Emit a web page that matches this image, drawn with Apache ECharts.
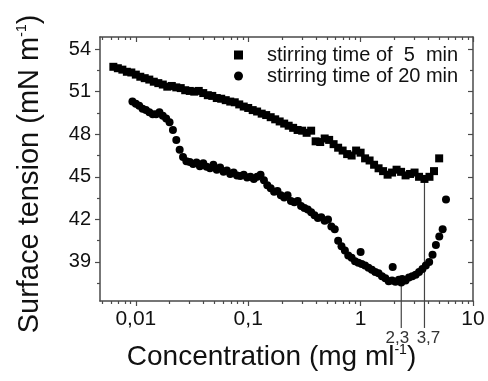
<!DOCTYPE html>
<html>
<head>
<meta charset="utf-8">
<script src="https://cdn.jsdelivr.net/npm/echarts@6/dist/echarts.min.js"></script>
<style>
  html, body { margin: 0; padding: 0; background: #fff; }
  #chart { width: 488px; height: 381px; }
</style>
</head>
<body>
<div id="chart"></div>
<script>
// stirring time of 5 min (squares)
const conc5 = [0.00631, 0.00692, 0.00759, 0.00832, 0.00912, 0.0100, 0.01096, 0.0120, 0.01318, 0.01445,
  0.01585, 0.01738, 0.01905, 0.0209, 0.0229, 0.0251, 0.0275, 0.0302, 0.0331, 0.0363,
  0.0398, 0.0437, 0.0479, 0.0525, 0.0575, 0.0631, 0.0692, 0.0759, 0.0832, 0.0912,
  0.100, 0.1096, 0.120, 0.1318, 0.1445, 0.1585, 0.1738, 0.1905, 0.209, 0.229,
  0.251, 0.275, 0.302, 0.331, 0.363, 0.398, 0.437, 0.479, 0.525, 0.575,
  0.631, 0.692, 0.759, 0.832, 0.912, 1.00, 1.096, 1.202, 1.318, 1.445,
  1.585, 1.738, 1.905, 2.089, 2.291, 2.512, 2.754, 3.020, 3.311,
  3.7, 4.1, 4.5, 5.0]
const tension5 = [52.75, 52.65, 52.55, 52.4, 52.35, 52.2, 52.05, 51.95, 51.85, 51.7,
  51.6, 51.5, 51.35, 51.4, 51.3, 51.25, 51.1, 51.05, 51.0, 51.05,
  50.9, 50.75, 50.7, 50.55, 50.5, 50.4, 50.3, 50.25, 50.1, 49.95,
  49.85, 49.7, 49.6, 49.45, 49.35, 49.2, 49.05, 48.9, 48.75, 48.6,
  48.45, 48.3, 48.25, 48.1, 48.25, 47.5, 47.45, 47.7, 47.6, 47.3,
  47.05, 46.85, 46.6, 46.5, 46.85, 46.7, 46.3, 46.15, 45.85, 45.6,
  45.4, 45.15, 45.3, 45.5, 45.35, 45.1, 45.2, 45.3, 45.0,
  44.85, 45.0, 45.4, 46.3]

// stirring time of 20 min (circles)
const conc20 = [0.00933, 0.0100, 0.01072, 0.01148, 0.0123, 0.01318, 0.01413, 0.01514, 0.01622, 0.01738,
  0.01862, 0.01995, 0.02138, 0.02291, 0.02455, 0.0263, 0.02818, 0.0302, 0.03236, 0.03467,
  0.03715, 0.03981, 0.04266, 0.04571, 0.04898, 0.05248, 0.05623, 0.06026, 0.06457, 0.06918,
  0.07413, 0.07943, 0.08511, 0.0912, 0.09772, 0.1047, 0.1122, 0.1202, 0.1288, 0.138,
  0.1479, 0.1585, 0.1698, 0.182, 0.195, 0.2089, 0.2239, 0.2399, 0.257, 0.2754,
  0.2951, 0.3162, 0.3388, 0.3631, 0.389, 0.4169, 0.4467, 0.4786, 0.5129, 0.5495,
  0.5888, 0.631, 0.6761, 0.7244, 0.7762, 0.8318, 0.8913, 0.955, 1.023, 1.096,
  1.175, 1.259, 1.349, 1.445, 1.549, 1.66, 1.778, 1.905, 2.042, 2.188,
  2.344, 2.512, 2.692, 2.884, 3.09, 3.311, 3.548, 3.802, 4.074, 4.365,
  4.677, 5.012, 5.37,
  5.75, 1.0, 1.93, 2.3]
const tension20 = [50.3, 50.15, 50.0, 49.8, 49.7, 49.55, 49.4, 49.4, 49.55, 49.3,
  49.1, 48.85, 48.3, 47.6, 46.9, 46.4, 46.1, 46.05, 45.9, 46.0,
  45.75, 45.95, 45.7, 45.6, 45.85, 45.5, 45.65, 45.35, 45.45, 45.2,
  45.3, 45.1, 45.05, 45.15, 44.95, 45.0, 44.85, 45.0, 45.15, 44.75,
  44.4, 44.2, 43.95, 44.0, 43.7, 43.55, 43.7, 43.3, 43.2, 43.3,
  42.95, 42.8, 42.7, 42.5, 42.3, 42.1, 42.15, 41.9, 42.0, 41.5,
  41.3, 40.5, 40.1, 39.8, 39.45, 39.3, 39.05, 38.95, 38.85, 38.75,
  38.6, 38.45, 38.3, 38.2, 38.0, 37.85, 37.65, 37.7, 37.6, 37.75,
  37.8, 37.7, 37.9, 38.0, 38.1, 38.3, 38.5, 38.75, 39.0, 39.5,
  40.2, 40.8, 41.3,
  43.4, 39.7, 38.65, 37.55]

// guide lines at the two marked concentrations
const markConc = [2.3, 3.7]
const markTop = [37.55, 44.85]
const markBottom = 34.35
const markLabels = ['2,3', '3,7']

// axis ticks
const xTicks = [0.01, 0.1, 1, 10]
const xMinorTicks = [0.005, 0.006, 0.007, 0.008, 0.009,
  0.02, 0.03, 0.04, 0.05, 0.06, 0.07, 0.08, 0.09,
  0.2, 0.3, 0.4, 0.5, 0.6, 0.7, 0.8, 0.9,
  2, 3, 4, 5, 6, 7, 8, 9]
const yTicks = [39, 42, 45, 48, 51, 54]
const yMinorTicks = [37.5, 40.5, 43.5, 46.5, 49.5, 52.5]

const seriesNames = ['stirring time of  5  min', 'stirring time of 20 min']

const font = "'Liberation Sans', Arial, sans-serif"
const axisColor = '#4a4a4a'
const xMin = 0.0048
const xMax = 10
const yMin = 36.25
const yMax = 54.85

function xAxisDef(pos, ticks, len, inside, withLabel, withLine) {
  return {
    type: 'log',
    logBase: 10,
    position: pos,
    min: xMin,
    max: xMax,
    axisLine: { show: withLine, lineStyle: { color: axisColor, width: 1.5 } },
    axisTick: { show: true, customValues: ticks, length: len, inside: inside, lineStyle: { color: axisColor, width: 1.2 } },
    axisLabel: withLabel ? {
      show: true,
      customValues: ticks,
      margin: 8,
      color: '#111',
      fontSize: 21,
      fontFamily: font,
      formatter: v => String(v).replace('.', ',')
    } : { show: false },
    splitLine: { show: false },
    minorTick: { show: false }
  }
}

function yAxisDef(pos, ticks, len, inside, withLabel, withLine) {
  return {
    type: 'value',
    position: pos,
    min: yMin,
    max: yMax,
    axisLine: { show: withLine, lineStyle: { color: axisColor, width: 1.5 } },
    axisTick: { show: true, customValues: ticks, length: len, inside: inside, lineStyle: { color: axisColor, width: 1.2 } },
    axisLabel: withLabel ? {
      show: true,
      customValues: ticks,
      margin: 9,
      color: '#111',
      fontSize: 20,
      fontFamily: font
    } : { show: false },
    splitLine: { show: false }
  }
}

const xAxes = [
  xAxisDef('bottom', xTicks, 5, false, true, true),
  xAxisDef('bottom', xMinorTicks, 3, false, false, false),
  xAxisDef('top', xTicks, 5, true, false, true),
  xAxisDef('top', xMinorTicks, 3, true, false, false)
]
xAxes[0].name = 'Concentration (mg ml{s|-1})'
xAxes[0].nameLocation = 'middle'
xAxes[0].nameGap = 42
xAxes[0].nameTextStyle = {
  fontSize: 28, color: '#111', fontFamily: font, padding: [0, 30, 0, 0],
  rich: { s: { fontSize: 14, fontFamily: font, color: '#111', padding: [0, 0, 14, 0] } }
}

const yAxes = [
  yAxisDef('left', yTicks, 5, false, true, true),
  yAxisDef('left', yMinorTicks, 3, false, false, false),
  yAxisDef('right', yTicks, 5, true, false, true),
  yAxisDef('right', yMinorTicks, 3, true, false, false)
]
yAxes[0].name = 'Surface tension (mN m{s|-1})'
yAxes[0].nameLocation = 'middle'
yAxes[0].nameGap = 56
yAxes[0].nameTextStyle = {
  fontSize: 29, color: '#111', fontFamily: font, padding: [0, 10, 0, 0],
  rich: { s: { fontSize: 14, fontFamily: font, color: '#111', padding: [0, 0, 14, 0] } }
}

const labelShift = [-4, 4]
const guideSeries = markConc.map((c, i) => ({
  type: 'line',
  clip: false,
  silent: true,
  symbol: 'circle',
  symbolSize: 0,
  lineStyle: { color: '#444', width: 1.2 },
  itemStyle: { color: '#444' },
  data: [
    [c, markTop[i]],
    {
      value: [c, markBottom],
      label: {
        show: true, position: 'bottom', distance: 2, offset: [labelShift[i], 0],
        formatter: markLabels[i], fontSize: 17, color: '#333', fontFamily: font
      }
    }
  ],
  z: 1
}))

const chart = echarts.init(document.getElementById('chart'))
chart.setOption({
  animation: false,
  backgroundColor: '#fff',
  grid: { left: 100, right: 15, top: 37, bottom: 80 },
  legend: {
    orient: 'vertical',
    left: 229,
    top: 40,
    itemWidth: 9,
    itemHeight: 9,
    itemGap: 1,
    textStyle: { fontSize: 20, color: '#111', fontFamily: font, padding: [0, 0, 0, 19] },
    data: [{ name: seriesNames[0], icon: 'rect' }, { name: seriesNames[1], icon: 'circle' }]
  },
  xAxis: xAxes,
  yAxis: yAxes,
  series: [
    {
      name: seriesNames[0],
      type: 'scatter',
      symbol: 'rect',
      symbolSize: 8,
      itemStyle: { color: '#000', opacity: 1 },
      data: conc5.map((c, i) => [c, tension5[i]]),
      z: 3
    },
    {
      name: seriesNames[1],
      type: 'scatter',
      symbol: 'circle',
      symbolSize: 8,
      itemStyle: { color: '#000', opacity: 1 },
      data: conc20.map((c, i) => [c, tension20[i]]),
      z: 3
    }
  ].concat(guideSeries)
})
</script>
</body>
</html>
